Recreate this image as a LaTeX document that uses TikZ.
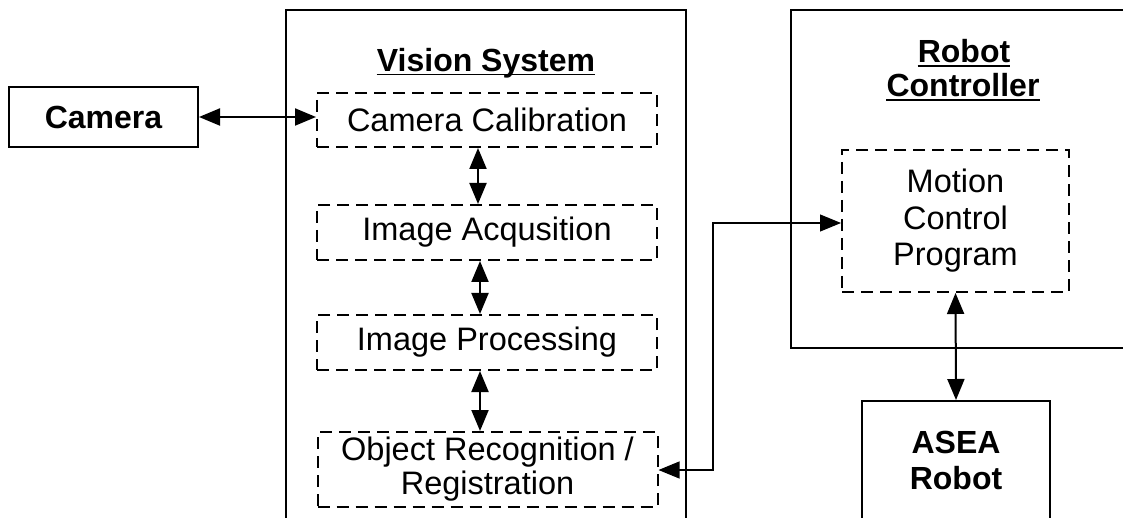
\documentclass[tikz,border=0pt]{standalone}
\usepackage{fontspec}
\setmainfont{Liberation Sans}
\usetikzlibrary{arrows.meta,calc}
\begin{document}
\begin{tikzpicture}[x=1pt,y=-1pt,
  txt/.style={font=\fontsize{32}{35}\selectfont, align=center, inner sep=0pt},
  solidbox/.style={draw, line width=2pt, inner sep=0pt, font=\fontsize{32}{36}\selectfont\bfseries, align=center},
  dashbox/.style={draw, line width=2pt, dash pattern=on 12pt off 7pt, inner sep=0pt, font=\fontsize{32.5}{34}\selectfont, align=center},
  frame/.style={line width=2pt},
  biarrow/.style={line width=2pt, {Triangle[length=21pt,width=17pt]}-{Triangle[length=21pt,width=17pt]}},
  thinarrow/.style={line width=1.1pt, {Triangle[length=21pt,width=17pt]}-{Triangle[length=21pt,width=17pt]}},
  uline/.style={line width=1.8pt}
]
\useasboundingbox (0,0) rectangle (1123,518);
\fill[white] (0,0) rectangle (1123,518);
\begin{scope}
\clip (0,0) rectangle (1123,518);
% containers
\draw[frame] (286,540) -- (286,10) -- (686,10) -- (686,540);
\draw[frame] (1140,10) -- (791,10) -- (791,348) -- (1140,348);
% titles
\node[txt, font=\fontsize{32}{35}\selectfont\bfseries, anchor=base] (vt) at (486,72) {Vision System};
\draw[uline] ([yshift=-2.5pt]vt.base west) -- ([yshift=-2.5pt]vt.base east);
\node[txt, font=\fontsize{32}{35}\selectfont\bfseries, anchor=base] (rt1) at (964,63) {Robot};
\draw[uline] ([yshift=-3pt]rt1.base west) -- ([yshift=-3pt]rt1.base east);
\node[txt, font=\fontsize{32}{35}\selectfont\bfseries, anchor=base] (rt2) at (963,97) {Controller};
\draw[uline] ([yshift=-3pt]rt2.base west) -- ([yshift=-3pt]rt2.base east);
% nodes
\node[solidbox, minimum width=189pt, minimum height=60pt] (cam) at (103.5,117) {Camera};
\node[dashbox, minimum width=340pt, minimum height=54pt] (cc) at (487,120) {Camera Calibration};
\node[dashbox, minimum width=340pt, minimum height=55pt] (ia) at (487,232.5) {Image Acqusition};
\node[dashbox, minimum width=340pt, minimum height=55pt] (ip) at (487,342.5) {Image Processing};
\node[dashbox, minimum width=340pt, minimum height=75pt] (orr) at (487.5,469.5) {Object Recognition /\\Registration};
\node[dashbox, minimum width=227pt, minimum height=142pt, font=\fontsize{32.5}{36.5}\selectfont] (mc) at (955.5,221) {Motion\\Control\\Program};
\node[draw, line width=2pt, minimum width=188pt, minimum height=160pt] (asea) at (956,481) {};
\node[txt, font=\fontsize{32}{36}\selectfont\bfseries] (aseat) at (956,460) {ASEA\\Robot};
% connectors
\draw[biarrow] (cam.east) -- (cam.east -| cc.west);
\draw[biarrow] ([xshift=-9pt]cc.south) -- ([xshift=-9pt]ia.north);
\draw[biarrow] ([xshift=-7pt]ia.south) -- ([xshift=-7pt]ip.north);
\draw[biarrow] ([xshift=-7pt]ip.south) -- ([xshift=-7.5pt]orr.north);
\coordinate (bend) at (713,470);
\draw[thinarrow] (orr.east |- bend) -- (bend) |- ([yshift=-2pt]mc.west);
\draw[biarrow] (mc.south) -- (asea.north);
\end{scope}
\end{tikzpicture}
\end{document}
